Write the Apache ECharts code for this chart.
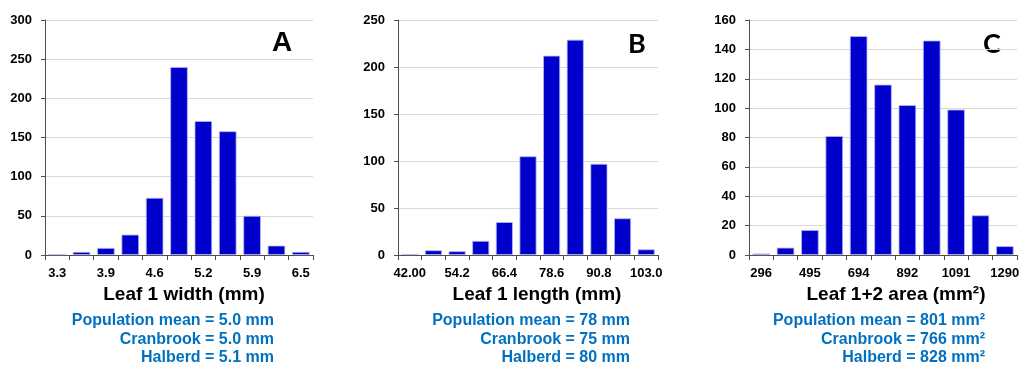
<!DOCTYPE html>
<html>
<head>
<meta charset="utf-8">
<script src="https://cdn.jsdelivr.net/npm/echarts@6/dist/echarts.min.js"></script>
<style>
html,body{margin:0;padding:0;background:#fff;}
#c{width:1024px;height:373px;}
</style>
</head>
<body>
<div id="c"></div>
<script>
// Panel A: Leaf 1 width (mm)
const catsA = ['3.3','3.6','3.9','4.3','4.6','4.9','5.2','5.5','5.9','6.2','6.5'];
const valsA = [1, 4, 9, 26, 73, 240, 171, 158, 50, 12, 4];
// Panel B: Leaf 1 length (mm)
const catsB = ['42.00','48.1','54.2','60.3','66.4','72.5','78.6','84.7','90.8','96.9','103.0'];
const valsB = [1, 5, 4, 15, 35, 105, 212, 229, 97, 39, 6];
// Panel C: Leaf 1+2 area (mm2)
const catsC = ['296','396','495','594','694','793','892','992','1091','1190','1290'];
const valsC = [1, 5, 17, 81, 149, 116, 102, 146, 99, 27, 6];
// y-axis scales
const yMax = [300, 250, 160];
const yStep = [50, 50, 20];
// texts
const axisNames = ['Leaf 1 width (mm)', 'Leaf 1 length (mm)', 'Leaf 1+2 area (mm²)'];
const panelLetters = ['A', 'B', 'C'];
const notesA = ['Population mean = 5.0 mm', 'Cranbrook = 5.0 mm', 'Halberd = 5.1 mm'];
const notesB = ['Population mean = 78 mm', 'Cranbrook = 75 mm', 'Halberd = 80 mm'];
const notesC = ['Population mean = 801 mm²', 'Cranbrook = 766 mm²', 'Halberd = 828 mm²'];

const FONT = '"Liberation Sans", Arial, sans-serif';
const grids = [
  {left: 45, top: 20, width: 268, height: 235},
  {left: 398, top: 20, width: 260, height: 235},
  {left: 749, top: 20, width: 268, height: 235}
];
const cats = [catsA, catsB, catsC];
const vals = [valsA, valsB, valsC];
const notes = [notesA, notesB, notesC];
const noteRight = [274, 630, 985];
const nameShift = [10, 18, 26];
const letterPos = [[282, 43], [637, 44], [992, 44]];
const letterFont = [FONT, 'Lato, sans-serif', 'Lato, sans-serif'];
const letterSize = [28, 27, 27];

const option = {
  animation: false,
  backgroundColor: '#fff',
  grid: grids,
  xAxis: grids.map((g, i) => ({
    type: 'category',
    gridIndex: i,
    data: cats[i],
    boundaryGap: true,
    name: axisNames[i],
    nameLocation: 'middle',
    nameGap: 27,
    nameTextStyle: {
      fontFamily: FONT, fontWeight: 'bold', fontSize: 19, color: '#000',
      padding: [0, 0, 0, nameShift[i]]
    },
    axisLine: {show: true, lineStyle: {color: '#4d4d4d', width: 1}},
    axisTick: {show: true, interval: 0, length: 5, alignWithLabel: false, lineStyle: {color: '#4d4d4d'}},
    axisLabel: {interval: 1, margin: 12, fontFamily: FONT, fontWeight: 'bold', fontSize: 13, color: '#000'},
    splitLine: {show: false}
  })),
  yAxis: grids.map((g, i) => ({
    type: 'value',
    gridIndex: i,
    min: 0,
    max: yMax[i],
    interval: yStep[i],
    axisLine: {show: true, lineStyle: {color: '#4d4d4d', width: 1}},
    axisTick: {show: true, length: 4, lineStyle: {color: '#4d4d4d'}},
    axisLabel: {margin: 13, fontFamily: FONT, fontWeight: 'bold', fontSize: 13, color: '#000'},
    splitLine: {show: true, lineStyle: {color: '#d9d9d9', width: 1}}
  })),
  series: grids.map((g, i) => ({
    type: 'bar',
    xAxisIndex: i,
    yAxisIndex: i,
    data: vals[i],
    barCategoryGap: '28%',
    itemStyle: {color: '#0000cc', borderColor: '#b8b8f0', borderWidth: 0.8}
  })),
  graphic: []
};

panelLetters.forEach((L, i) => {
  option.graphic.push({
    type: 'text', x: letterPos[i][0], y: letterPos[i][1],
    style: {text: L, fontFamily: letterFont[i], fontWeight: 'bold', fontSize: letterSize[i], fill: '#000',
            align: 'center', verticalAlign: 'middle'}
  });
});
const noteY = [321, 340, 358];
notes.forEach((arr, i) => {
  arr.forEach((t, j) => {
    option.graphic.push({
      type: 'text', x: noteRight[i], y: noteY[j],
      style: {text: t, fontFamily: FONT, fontWeight: 'bold', fontSize: 16, fill: '#0070c0',
              align: 'right', verticalAlign: 'middle'}
    });
  });
});

const chart = echarts.init(document.getElementById('c'), null, {renderer: 'canvas'});
chart.setOption(option);
</script>
</body>
</html>
